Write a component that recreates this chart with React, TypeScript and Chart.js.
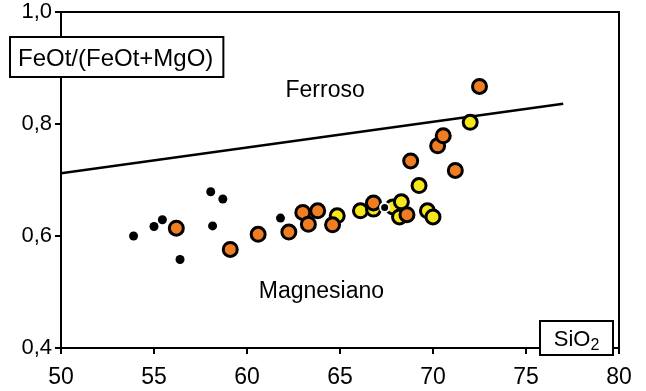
import React, { useEffect, useRef } from "react";
import { Chart, registerables } from "chart.js";

Chart.register(...registerables);

// SiO2 (x) and FeOt/(FeOt+MgO) (y)
const blackX = [53.9, 55.0, 55.45, 56.4, 58.05, 58.7, 58.15, 61.8, 67.4];
const blackY = [0.6, 0.617, 0.629, 0.558, 0.679, 0.666, 0.618, 0.632, 0.651];

const orangeX = [56.2, 59.1, 60.6, 62.25, 63.0, 63.8, 63.3, 64.6, 66.8, 68.6, 68.8, 70.25, 70.55, 71.2, 72.5];
const orangeY = [0.614, 0.576, 0.603, 0.607, 0.642, 0.645, 0.621, 0.62, 0.659, 0.638, 0.734, 0.761, 0.779, 0.717, 0.867];

const yellowX = [64.85, 66.1, 66.8, 67.85, 68.3, 68.2, 69.25, 69.7, 70.0, 72.0];
const yellowY = [0.636, 0.645, 0.648, 0.652, 0.661, 0.634, 0.69, 0.645, 0.634, 0.803];

const boundaryX = [50, 77];
const boundaryY = [0.712, 0.836];

const xTicks = [50, 55, 60, 65, 70, 75, 80];
const yTicks = [0.4, 0.6, 0.8, 1.0];

const fieldNames = ["Ferroso", "Magnesiano"];
const fieldX = [64.2, 64.0];
const fieldY = [0.859, 0.5];

const yTitle = "FeOt/(FeOt+MgO)";
const xTitle = "SiO";
const xTitleSub = "2";

const FONT = "'Liberation Sans', Arial, sans-serif";

const pts = (xs: number[], ys: number[]) => xs.map((x, i) => ({ x, y: ys[i] }));

const decorPlugin = {
  id: "decor",
  afterDatasetsDraw(chart: any) {
    const { ctx, chartArea, scales } = chart;
    const xs = scales.x;
    const ys = scales.y;
    ctx.save();
    ctx.strokeStyle = "#000";
    ctx.lineWidth = 2;
    ctx.beginPath();
    ctx.moveTo(chartArea.left, chartArea.top);
    ctx.lineTo(chartArea.right, chartArea.top);
    ctx.lineTo(chartArea.right, chartArea.bottom);
    ctx.stroke();
    ctx.beginPath();
    ctx.moveTo(chartArea.right, chartArea.bottom);
    ctx.lineTo(chartArea.right, chartArea.bottom + 6);
    ctx.stroke();

    ctx.fillStyle = "#000";
    ctx.font = `23px ${FONT}`;
    ctx.textAlign = "center";
    ctx.textBaseline = "middle";
    fieldNames.forEach((n, i) => {
      ctx.fillText(n, xs.getPixelForValue(fieldX[i]), ys.getPixelForValue(fieldY[i]));
    });

    ctx.font = `24px ${FONT}`;
    ctx.textAlign = "left";
    ctx.textBaseline = "alphabetic";
    const tw = ctx.measureText(yTitle).width;
    const bx = 10, by = 37, bh = 40;
    const bw = tw + 18;
    ctx.fillStyle = "#fff";
    ctx.fillRect(bx, by, bw, bh);
    ctx.lineWidth = 2;
    ctx.strokeRect(bx, by, bw, bh);
    ctx.fillStyle = "#000";
    ctx.fillText(yTitle, bx + 8, by + 29);

    ctx.font = `22px ${FONT}`;
    const w1 = ctx.measureText(xTitle).width;
    ctx.font = `16px ${FONT}`;
    const w2 = ctx.measureText(xTitleSub).width;
    const sx = 540, sy = 321, sw = 73, sh = 34;
    ctx.fillStyle = "#fff";
    ctx.fillRect(sx, sy, sw, sh);
    ctx.strokeRect(sx, sy, sw, sh);
    const tx = sx + (sw - (w1 + w2)) / 2;
    ctx.fillStyle = "#000";
    ctx.font = `22px ${FONT}`;
    ctx.fillText(xTitle, tx, sy + 25);
    ctx.font = `16px ${FONT}`;
    ctx.fillText(xTitleSub, tx + w1, sy + 29);
    ctx.restore();
  },
};

export default function App() {
  const ref = useRef<HTMLCanvasElement>(null);
  useEffect(() => {
    if (!ref.current) return;
    const chart = new Chart(ref.current, {
      type: "scatter",
      data: {
        datasets: [
          {
            label: "boundary",
            data: pts(boundaryX, boundaryY),
            showLine: true,
            borderColor: "#000",
            borderWidth: 2.5,
            pointRadius: 0,
            order: 3,
          },
          {
            label: "black",
            data: pts(blackX, blackY),
            backgroundColor: "#000",
            borderColor: blackX.map((x) => (x > 67 ? "#fff" : "#000")),
            borderWidth: blackX.map((x) => (x > 67 ? 2 : 0)),
            pointRadius: 4.5,
            order: 0,
          },
          {
            label: "orange",
            data: pts(orangeX, orangeY),
            backgroundColor: "#EF7D22",
            borderColor: "#000",
            borderWidth: 3,
            pointRadius: 7,
            order: 1,
          },
          {
            label: "yellow",
            data: pts(yellowX, yellowY),
            backgroundColor: "#F6E71A",
            borderColor: "#000",
            borderWidth: 3,
            pointRadius: 7,
            order: 2,
          },
        ],
      },
      options: {
        responsive: false,
        animation: false,
        layout: { padding: { top: 12, right: 27, left: 0, bottom: 0 } },
        plugins: { legend: { display: false }, tooltip: { enabled: false } },
        scales: {
          x: {
            type: "linear",
            min: 50,
            max: 80,
            afterBuildTicks: (s: any) => {
              s.ticks = xTicks.map((v) => ({ value: v }));
            },
            afterFit: (s: any) => {
              s.height = 43;
              s.paddingLeft = 0;
              s.paddingRight = 0;
            },
            grid: { drawOnChartArea: false, drawTicks: true, tickLength: 6, color: "#000", lineWidth: 2 },
            border: { display: true, color: "#000", width: 2 },
            ticks: { color: "#000", font: { family: FONT, size: 23 }, padding: 10, maxRotation: 0 },
          },
          y: {
            type: "linear",
            min: 0.4,
            max: 1.0,
            afterBuildTicks: (s: any) => {
              s.ticks = yTicks.map((v) => ({ value: v }));
            },
            afterFit: (s: any) => {
              s.width = 61;
              s.paddingTop = 0;
              s.paddingBottom = 0;
            },
            grid: { drawOnChartArea: false, drawTicks: true, tickLength: 6, color: "#000", lineWidth: 2 },
            border: { display: true, color: "#000", width: 2 },
            ticks: {
              color: "#000",
              font: { family: FONT, size: 22 },
              padding: 3,
              callback: (v: any) => Number(v).toFixed(1).replace(".", ","),
            },
          },
        },
      },
      plugins: [decorPlugin],
    });
    return () => chart.destroy();
  }, []);
  return (
    <div style={{ position: "fixed", left: 0, top: 0, width: 646, height: 391, background: "#fff" }}>
      <canvas ref={ref} width={646} height={391} style={{ width: 646, height: 391 }} />
    </div>
  );
}
